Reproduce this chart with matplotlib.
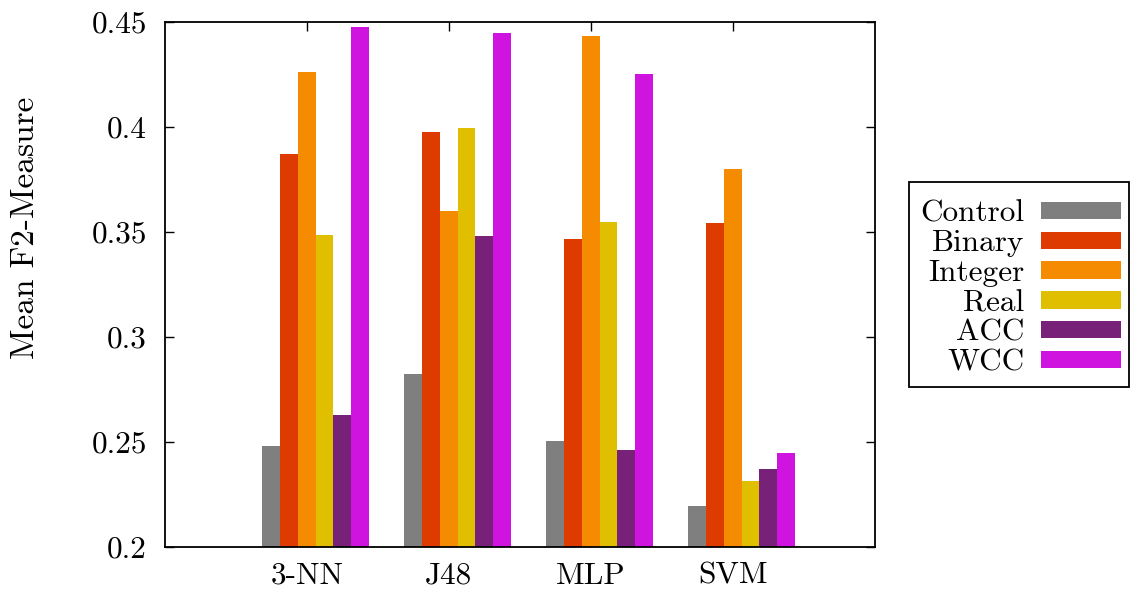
import matplotlib
matplotlib.use('Agg')
import matplotlib.pyplot as plt
import numpy as np

plt.rcParams['font.family'] = ['cmr10', 'DejaVu Serif']
plt.rcParams['axes.formatter.use_mathtext'] = True

classifiers = ['3-NN', 'J48', 'MLP', 'SVM']
series = ['Control', 'Binary', 'Integer', 'Real', 'ACC', 'WCC']
colors = ['#7f7f7f', '#dd3b00', '#f58b00', '#e0be00', '#782178', '#cf14e0']

control = [0.2480, 0.2822, 0.2503, 0.2195]
binary = [0.3870, 0.3973, 0.3464, 0.3541]
integer = [0.4259, 0.3599, 0.4433, 0.3797]
real = [0.3484, 0.3995, 0.3548, 0.2313]
acc = [0.2627, 0.3480, 0.2460, 0.2369]
wcc = [0.4476, 0.4445, 0.4251, 0.2448]
values = [control, binary, integer, real, acc, wcc]

yticks = [0.2, 0.25, 0.3, 0.35, 0.4, 0.45]
ytick_labels = ['0.2', '0.25', '0.3', '0.35', '0.4', '0.45']

fig = plt.figure(figsize=(11.35, 5.92), dpi=100)
ax = fig.add_axes([165/1135, 1 - 546.7/592, 710/1135, 525/592])

x = np.arange(len(classifiers))
width = 0.125
start = -0.315 + width/2
for i, (name, vals) in enumerate(zip(series, values)):
    ax.bar(x + start + i*width, vals, width, color=colors[i], label=name,
           linewidth=0)

ax.set_xlim(-1, 4)
ax.set_ylim(0.2, 0.45)
ax.set_xticks(x)
ax.set_xticklabels(classifiers)
ax.set_yticks(yticks)
ax.set_yticklabels(ytick_labels)
ax.set_axisbelow(True)
ax.tick_params(direction='in', length=6.5, width=1.0, labelsize=22.5,
               top=True, right=True)
ax.tick_params(axis='y', pad=13)
ax.tick_params(axis='x', pad=11)
for s in ax.spines.values():
    s.set_linewidth(1.3)

fig.text(25/1135, 1 - 228/592, 'Mean F2-Measure', rotation=90,
         ha='center', va='center', fontsize=24)

# legend entries without frame, box drawn separately (gnuplot style key)
leg = fig.legend(loc='upper left', bbox_to_anchor=(909/1135, 1 - 188.7/592),
                 fontsize=22.5, markerfirst=False, frameon=False,
                 handlelength=2.55, handleheight=0.48,
                 handletextpad=0.55, labelspacing=0.06, borderpad=0.35,
                 borderaxespad=0)
box = plt.Rectangle((909/1135, 1 - 386.7/592), 220/1135, 205/592,
                    transform=fig.transFigure, fill=False, lw=1.3,
                    edgecolor='black')
fig.add_artist(box)

fig.savefig('out.png', dpi=100)
